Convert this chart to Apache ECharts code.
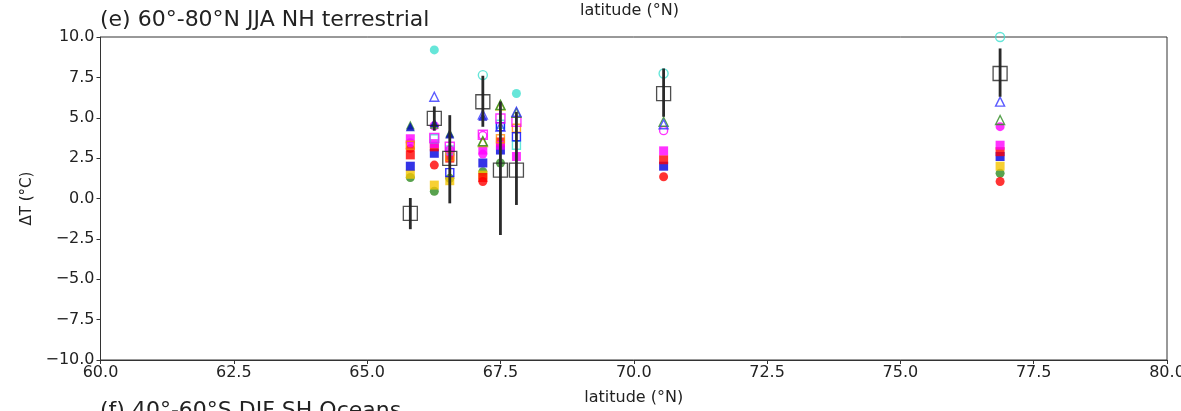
<!DOCTYPE html>
<html>
<head>
<meta charset="utf-8">
<script src="https://cdn.jsdelivr.net/npm/echarts@6/dist/echarts.min.js"></script>
<style>
html,body{margin:0;padding:0;background:#fff;overflow:hidden;}
#chart{width:1181px;height:411px;}
</style>
</head>
<body>
<div id="chart"></div>
<script>
// ---- data ----
const siteLats = [65.81, 66.26, 66.55, 67.17, 67.50, 67.80, 70.56, 76.87];

const cyanFilledCircle   = [null, 9.2, null, null, null, 6.5, null, null];
const cyanOpenCircle     = [null, null, null, 7.64, null, null, 7.74, 10.0];
const blueOpenTriangle   = [null, 6.3, null, 5.2, 4.45, 5.37, 4.6, 6.0];
const blueFilledTriangle = [4.45, 4.7, 4.0, 5.1, null, null, null, null];
const greenFilledTriangle= [4.55, 4.6, 4.05, null, null, null, null, null];
const greenOpenTriangle  = [null, null, null, 3.55, 5.8, 5.3, 4.75, 4.86];
const oliveOpenTriangle  = [null, null, null, 3.5, 5.75, null, null, null];
const magentaOpenSquare  = [null, 3.75, 3.2, 3.95, 4.95, 4.75, null, null];
const magentaFilledSquare= [3.7, 3.4, 2.9, 3.0, 3.3, 2.6, 2.95, 3.3];
const magentaOpenCircle  = [null, 4.5, 3.0, 3.9, null, null, 4.2, null];
const magentaFilledCircle= [3.45, null, null, 2.75, null, null, null, 4.45];
const redFilledCircle    = [3.1, 2.07, null, 1.05, null, null, 1.35, 1.05];
const redFilledSquare    = [2.7, 3.2, 2.5, 1.3, 3.5, null, 2.4, 2.9];
const blueFilledSquare   = [2.0, 2.8, null, 2.2, 3.0, null, 2.0, 2.6];
const blueOpenSquare     = [null, null, 1.6, null, 4.45, 3.82, null, null];
const orangeOpenSquare   = [3.3, null, 2.6, null, 3.7, 4.35, null, null];
const cyanOpenSquare     = [null, 3.7, 3.0, null, 4.6, 3.3, null, null];
const yellowFilledSquare = [1.5, 0.83, 1.1, 1.45, null, null, null, 2.0];
const greenFilledCircle  = [1.3, 0.45, 1.25, 1.66, 2.2, null, null, 1.56];

const obsValue = [-0.92, 4.96, 2.48, 5.99, 1.76, 1.76, 6.5, 7.74];
const obsLow   = [-1.9, 4.2, -0.3, 4.44, -2.26, -0.4, 5.06, 6.3];
const obsHigh  = [0.03, 5.7, 5.16, 7.6, 6.0, 5.37, 8.05, 9.29];

const xTicks = [60, 62.5, 65, 67.5, 70, 72.5, 75, 77.5, 80];
const yTicks = [-10, -7.5, -5, -2.5, 0, 2.5, 5, 7.5, 10];

// ---- styles ----
const modelDefs = [
  [greenFilledCircle, 'circle', '#2e8b22', true, 9],
  [yellowFilledSquare, 'rect', '#f5c400', true, 9],
  [blueFilledSquare, 'rect', '#0000e0', true, 9],
  [redFilledSquare, 'rect', '#ff0000', true, 9],
  [redFilledCircle, 'circle', '#ff0000', true, 9],
  [magentaFilledCircle, 'circle', '#ff00ff', true, 9],
  [magentaFilledSquare, 'rect', '#ff00ff', true, 9],
  [cyanOpenSquare, 'rect', '#40e0d0', false, 8],
  [orangeOpenSquare, 'rect', '#ff8c00', false, 8],
  [blueOpenSquare, 'rect', '#0000ff', false, 8],
  [magentaOpenCircle, 'circle', '#ff00ff', false, 8],
  [magentaOpenSquare, 'rect', '#ff00ff', false, 9],
  [oliveOpenTriangle, 'triangle', '#b5b500', false, 9],
  [greenOpenTriangle, 'triangle', '#2e8b22', false, 9],
  [greenFilledTriangle, 'triangle', '#2e8b22', true, 9],
  [blueFilledTriangle, 'triangle', '#0000c0', true, 9],
  [blueOpenTriangle, 'triangle', '#3333ff', false, 9],
  [cyanOpenCircle, 'circle', '#40e0d0', false, 9],
  [cyanFilledCircle, 'circle', '#40e0d0', true, 9]
];

const FONT = 'DejaVu Sans';
const series = modelDefs.map(([vals, sym, col, filled, size]) => ({
  type: 'scatter',
  symbol: sym,
  symbolSize: size,
  clip: false,
  z: 2,
  itemStyle: filled ? {color: col, borderWidth: 0} : {color: 'rgba(255,255,255,0)', borderColor: col, borderWidth: 1.4},
  data: siteLats.map((x, i) => vals[i] == null ? null : [x, vals[i]]).filter(d => d)
}));

series.push({
  type: 'custom',
  z: 3,
  data: siteLats.map((x, i) => [x, obsLow[i], obsHigh[i]]),
  renderItem: function (params, api) {
    const p1 = api.coord([api.value(0), api.value(1)]);
    const p2 = api.coord([api.value(0), api.value(2)]);
    return {type: 'line', shape: {x1: p1[0], y1: p1[1], x2: p2[0], y2: p2[1]},
            style: {stroke: '#2a2a2a', lineWidth: 2.8}};
  }
});
series.push({
  type: 'scatter',
  symbol: 'rect',
  symbolSize: 14,
  z: 4,
  itemStyle: {color: 'rgba(255,255,255,0)', borderColor: '#222', borderWidth: 1.3},
  data: siteLats.map((x, i) => [x, obsValue[i]])
});

const fmt = v => (v < 0 ? '\u2212' : '') + Math.abs(v).toFixed(1);

const chart = echarts.init(document.getElementById('chart'), null, {renderer: 'canvas'});
chart.setOption({
  animation: false,
  backgroundColor: '#fff',
  grid: {left: 100.5, right: 14, top: 37, bottom: 51, containLabel: false, outerBoundsMode: 'none',
         show: true, borderColor: '#333', borderWidth: 1, backgroundColor: 'transparent'},
  xAxis: {
    type: 'value', min: xTicks[0], max: xTicks[xTicks.length - 1], interval: 2.5,
    name: 'latitude (°N)', nameLocation: 'middle', nameGap: 30,
    nameTextStyle: {fontFamily: FONT, fontSize: 16, color: '#222'},
    axisLine: {onZero: false, lineStyle: {color: '#333', width: 1}},
    axisTick: {show: true, inside: false, length: 4, lineStyle: {color: '#333'}},
    axisLabel: {formatter: fmt, fontFamily: FONT, fontSize: 16, color: '#222', margin: 5, hideOverlap: false},
    splitLine: {show: false}
  },
  yAxis: {
    type: 'value', min: yTicks[0], max: yTicks[yTicks.length - 1], interval: 2.5,
    name: 'ΔT (°C)', nameLocation: 'middle', nameGap: 66, nameRotate: 90,
    nameTextStyle: {fontFamily: FONT, fontSize: 15, color: '#222'},
    axisLine: {onZero: false, lineStyle: {color: '#333', width: 1}},
    axisTick: {show: true, inside: false, length: 4, lineStyle: {color: '#333'}},
    axisLabel: {formatter: fmt, fontFamily: FONT, fontSize: 16, color: '#222', margin: 6},
    splitLine: {show: false}
  },
  graphic: [
    {type: 'text', left: 100, top: 9, style: {text: '(e) 60°-80°N JJA NH terrestrial', font: '22px "DejaVu Sans"', fill: '#222'}},
    {type: 'text', left: 580, top: 3, style: {text: 'latitude (°N)', font: '16px "DejaVu Sans"', fill: '#222'}},
    {type: 'text', left: 100, top: 400, style: {text: '(f) 40°-60°S DJF SH Oceans', font: '22px "DejaVu Sans"', fill: '#222'}}
  ],
  series: series
});
</script>
</body>
</html>
